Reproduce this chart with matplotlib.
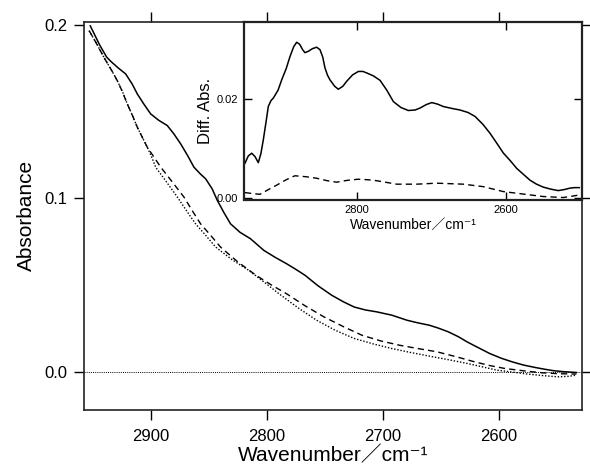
import matplotlib
matplotlib.use("Agg")
import matplotlib.pyplot as plt

plt.rcParams['font.family'] = ['Liberation Sans', 'Noto Sans CJK JP', 'DejaVu Sans']

# ---- main spectra ----
solid_x = [2952, 2944, 2938, 2934.4, 2928, 2921.5, 2916, 2911.5, 2906, 2900, 2893, 2885.7,
           2880, 2874.1, 2868, 2862.7, 2857, 2852.6, 2847, 2842.6, 2837, 2831.2, 2823,
           2814, 2802.5, 2793, 2783.1, 2775, 2766.9, 2756, 2744.1, 2734, 2724.7, 2715,
           2705.2, 2692.3, 2679.3, 2670, 2659.9, 2652, 2643.6, 2635, 2627.4, 2617,
           2607.9, 2598, 2588.5, 2579, 2569, 2560, 2552.7, 2543, 2533.3]
solid_y = [0.1994, 0.1885, 0.1815, 0.1790, 0.1752, 0.1717, 0.166, 0.1602, 0.1545, 0.1487,
           0.1450, 0.1420, 0.1372, 0.1314, 0.1245, 0.118, 0.1140, 0.1113, 0.1055, 0.0989,
           0.0920, 0.0854, 0.0805, 0.0768, 0.0701, 0.0662, 0.0625, 0.0592, 0.0557, 0.0498,
           0.0443, 0.0405, 0.0375, 0.0358, 0.0347, 0.0328, 0.0299, 0.0284, 0.0270, 0.0253,
           0.0232, 0.0204, 0.0174, 0.0138, 0.0107, 0.0080, 0.0059, 0.0041, 0.0027, 0.0016,
           0.0008, 0.0002, -0.0002]

dashed_x = [2953, 2946, 2940.2, 2934, 2928.7, 2924, 2920.1, 2915.5, 2911.5, 2907, 2902.9,
            2897, 2891.3, 2881, 2871.3, 2864, 2857, 2848, 2839.8, 2825, 2809.1, 2796,
            2783.1, 2767, 2750.7, 2734, 2718.2, 2702, 2685.7, 2670, 2653.3, 2637, 2620.8,
            2608, 2594.9, 2578, 2562.4, 2548, 2533.3]
dashed_y = [0.1966, 0.1885, 0.1812, 0.1742, 0.1678, 0.161, 0.1544, 0.1475, 0.141, 0.135,
            0.1295, 0.1237, 0.118, 0.1092, 0.1008, 0.0928, 0.0854, 0.0785, 0.072, 0.0635,
            0.0557, 0.0502, 0.0452, 0.0382, 0.0318, 0.0262, 0.0213, 0.0180, 0.0155, 0.0136,
            0.0117, 0.0089, 0.0059, 0.0038, 0.0021, 0.0007, -0.0004, -0.0009, -0.0011]

dotted_x = [2953, 2946, 2940.2, 2934, 2928.7, 2924, 2920.1, 2915.5, 2911.5, 2907, 2902.9,
            2899, 2895.7, 2886, 2877, 2869, 2861.3, 2852, 2844, 2830, 2815.5, 2802, 2789.6,
            2773, 2757.1, 2741, 2724.7, 2708, 2692.3, 2676, 2659.9, 2643, 2627.4, 2614,
            2601.4, 2588, 2575.5, 2562, 2549.5, 2540, 2533]
dotted_y = [0.1966, 0.1885, 0.1812, 0.1742, 0.1678, 0.161, 0.1544, 0.1475, 0.141, 0.135,
            0.1295, 0.1237, 0.118, 0.1092, 0.1008, 0.0928, 0.0854, 0.0783, 0.072, 0.0648,
            0.0586, 0.0517, 0.0452, 0.0370, 0.0299, 0.0241, 0.0194, 0.0162, 0.0136, 0.0113,
            0.0092, 0.0071, 0.005, 0.003, 0.0011, 0.0, -0.0011, -0.002, -0.0027, -0.0024,
            -0.0017]

main_xticks = [2900, 2800, 2700, 2600]
main_yticks = [0.0, 0.1, 0.2]
main_yticklabels = ["0.0", "0.1", "0.2"]

# ---- inset difference spectra ----
diff_solid_x = [2950.4, 2946, 2941.4, 2937, 2932.5, 2929, 2925.8, 2922, 2919.1, 2915.5,
                2912.4, 2906, 2901.1, 2895, 2890, 2885, 2881, 2877, 2873, 2869.9, 2865,
                2860, 2854.2, 2849.7, 2846, 2843, 2839.5, 2836.3, 2830, 2825.1, 2819,
                2813.9, 2806, 2798.2, 2792, 2787, 2778, 2769.1, 2760, 2751.2, 2741, 2731.1,
                2722, 2715.4, 2707, 2699.7, 2692, 2684.1, 2672, 2661.7, 2651, 2641.6, 2631,
                2621.5, 2612, 2603.6, 2594, 2585.7, 2576, 2567.8, 2559, 2550, 2540, 2529.9,
                2522, 2514.1, 2508, 2501.6]
diff_solid_y = [0.00703, 0.0085, 0.00906, 0.0084, 0.00715, 0.0090, 0.01175, 0.0155, 0.0185,
                0.0197, 0.0202, 0.0218, 0.0239, 0.0262, 0.0286, 0.0306, 0.0315, 0.0311,
                0.0300, 0.0294, 0.0297, 0.0302, 0.0305, 0.0300, 0.0285, 0.0263, 0.0248,
                0.0239, 0.0226, 0.0220, 0.0226, 0.0236, 0.0249, 0.0256, 0.0256, 0.0253,
                0.0247, 0.0238, 0.0218, 0.0195, 0.0183, 0.0177, 0.0178, 0.0182, 0.0189,
                0.0193, 0.0190, 0.0185, 0.0181, 0.0178, 0.0173, 0.0165, 0.0149, 0.0131,
                0.0110, 0.0091, 0.0075, 0.0060, 0.0047, 0.0036, 0.0028, 0.0022, 0.0018,
                0.0015, 0.0017, 0.0020, 0.0021, 0.0021]

diff_dashed_x = [2950.4, 2940, 2930.2, 2919, 2907.9, 2895, 2883.4, 2868, 2854.2, 2840,
                 2827.4, 2812, 2798.2, 2786, 2773.6, 2746.7, 2719.9, 2693.1, 2657.3, 2630.5,
                 2603.6, 2576.8, 2550, 2523.2, 2501.6]
diff_dashed_y = [0.0011, 0.0009, 0.00075, 0.0017, 0.0026, 0.0037, 0.0045, 0.0043, 0.0040,
                 0.0035, 0.0032, 0.0036, 0.0038, 0.0037, 0.0035, 0.0028, 0.0028, 0.0030,
                 0.0028, 0.0023, 0.0013, 0.0008, 0.0003, 0.0001, 0.0006]

inset_xticks = [2800, 2600]
inset_yticks = [0.00, 0.02]
inset_yticklabels = ["0.00", "0.02"]

xlabel_text = 'Wavenumber／cm⁻¹'

W, H = 590, 471
fig = plt.figure(figsize=(W / 100, H / 100), dpi=100)

# main axes
ax = fig.add_axes([84 / W, (H - 410) / H, (582 - 84) / W, (410 - 21.5) / H])
kw = dict(color='black', solid_joinstyle='round', dash_joinstyle='round')
ax.plot(solid_x, solid_y, lw=1.1, **kw)
ax.plot(dashed_x, dashed_y, lw=1.0, dashes=(4.5, 3), **kw)
ax.plot(dotted_x, dotted_y, lw=1.0, dashes=(1, 1.3), **kw)
ax.axhline(0, color='black', lw=0.7, dashes=(1, 1.2))
ax.set_xlim(2957.4, 2528.5)
ax.set_ylim(-0.0218, 0.2019)
ax.set_xticks(main_xticks)
ax.set_xticklabels([str(t) for t in main_xticks])
ax.set_yticks(main_yticks)
ax.set_yticklabels(main_yticklabels)
ax.tick_params(direction='out', length=7, width=1.0, labelsize=12, top=True, right=True,
               color='black')
ax.tick_params(axis='x', pad=7)
ax.tick_params(axis='y', pad=5)
for s in ax.spines.values():
    s.set_linewidth(1.2)
    s.set_color('#222222')
ax.set_xlabel(xlabel_text, fontsize=15, labelpad=1)
ax.set_ylabel('Absorbance', fontsize=15, labelpad=6)

# inset axes
ins = fig.add_axes([244 / W, (H - 199.5) / H, (582 - 244) / W, (199.5 - 22) / H])
ins.set_facecolor('white')
ins.plot(diff_solid_x, diff_solid_y, lw=1.1, **kw)
ins.plot(diff_dashed_x, diff_dashed_y, lw=1.0, dashes=(4.5, 3), **kw)
ins.set_xlim(2951.7, 2498)
ins.set_ylim(-0.0003, 0.0356)
ins.set_xticks(inset_xticks)
ins.set_xticklabels([str(t) for t in inset_xticks])
ins.set_yticks(inset_yticks)
ins.set_yticklabels(inset_yticklabels)
ins.tick_params(direction='in', length=6, width=1.0, labelsize=8, top=True, right=True,
                pad=4)
for s in ins.spines.values():
    s.set_linewidth(1.6)
    s.set_color('#222222')
ins.set_xlabel(xlabel_text, fontsize=10, labelpad=2)
ins.set_ylabel('Diff. Abs.', fontsize=12, labelpad=3)

fig.savefig('out.png', dpi=100)
